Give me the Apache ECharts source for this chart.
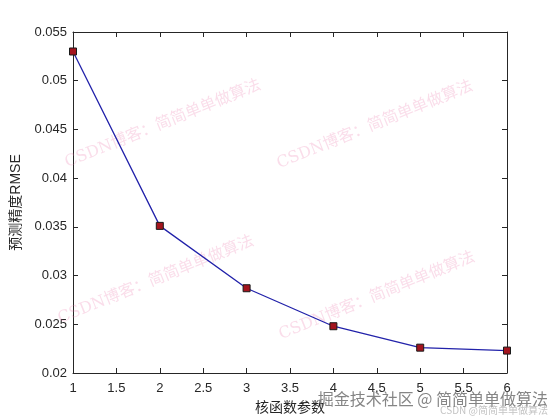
<!DOCTYPE html>
<html>
<head>
<meta charset="utf-8">
<script src="https://cdn.jsdelivr.net/npm/echarts@6/dist/echarts.min.js"></script>
<style>
  html, body { margin: 0; padding: 0; background: #fff; }
  #chart { width: 560px; height: 420px; }
</style>
</head>
<body>
<div id="chart"></div>
<script>
// 数据
const kernelParams = [1, 2, 3, 4, 5, 6]
const rmseValues = [0.0530, 0.0351, 0.0287, 0.0248, 0.0226, 0.0223]
const xTitle = '核函数参数'
const yTitle = '预测精度RMSE'
const watermark = 'CSDN博客：简简单单做算法'
const footerMain = '掘金技术社区 @ 简简单单做算法'
const footerSub = 'CSDN @简简单单做算法'

const font = '"Liberation Sans", "Noto Sans CJK SC", Arial, sans-serif'
const textColor = '#262626'

const myChart = echarts.init(document.getElementById('chart'))

// 水印
const wmPos = [[163, 124], [375, 125], [156, 280], [377, 296]]
const wmGraphics = wmPos.map(p => ({
  type: 'text',
  x: p[0],
  y: p[1],
  rotation: 22 * Math.PI / 180,
  z: 1,
  style: {
    text: watermark,
    fill: 'rgba(235, 120, 170, 0.25)',
    font: '16px "DejaVu Serif", "Noto Sans CJK SC", serif',
    align: 'center',
    verticalAlign: 'middle'
  }
}))

const hiddenAxisCommon = {
  type: 'value',
  axisLine: { show: true, lineStyle: { color: '#262626', width: 1 } },
  axisTick: { show: true, inside: true, length: 5, lineStyle: { color: '#262626' } },
  axisLabel: { show: false },
  splitLine: { show: false }
}

const option = {
  animation: false,
  backgroundColor: '#fff',
  grid: { left: 73, right: 53, top: 32, bottom: 46 },
  xAxis: [
    {
      type: 'value',
      min: 1, max: 6, interval: 0.5,
      name: xTitle,
      nameLocation: 'middle',
      nameGap: 28,
      nameTextStyle: { color: textColor, fontSize: 14, fontFamily: font },
      axisLine: { lineStyle: { color: '#262626', width: 1 } },
      axisTick: { inside: true, length: 5, lineStyle: { color: '#262626' } },
      axisLabel: { color: textColor, fontSize: 13, fontFamily: font, margin: 9 },
      splitLine: { show: false }
    },
    Object.assign({ position: 'top', min: 1, max: 6, interval: 0.5 }, hiddenAxisCommon)
  ],
  yAxis: [
    {
      type: 'value',
      min: 0.02, max: 0.055, interval: 0.005,
      name: yTitle,
      nameLocation: 'middle',
      nameGap: 42,
      nameTextStyle: { color: textColor, fontSize: 14, fontFamily: font },
      axisLine: { show: true, lineStyle: { color: '#262626', width: 1 } },
      axisTick: { show: true, inside: true, length: 5, lineStyle: { color: '#262626' } },
      axisLabel: {
        color: textColor, fontSize: 13, fontFamily: font, margin: 6,
        formatter: v => String(+v.toFixed(3))
      },
      splitLine: { show: false }
    },
    Object.assign({ position: 'right', min: 0.02, max: 0.055, interval: 0.005 }, hiddenAxisCommon)
  ],
  series: [
    {
      type: 'line',
      data: kernelParams.map((x, i) => [x, rmseValues[i]]),
      z: 5,
      symbol: 'rect',
      symbolSize: 7,
      lineStyle: { color: '#2222aa', width: 1.3 },
      itemStyle: { color: '#a3141e', borderColor: '#1a1a1a', borderWidth: 1 }
    }
  ],
  graphic: wmGraphics.concat([
    {
      type: 'text',
      right: 12,
      top: 391,
      z: 10,
      style: {
        text: footerMain,
        fill: 'rgba(120, 120, 120, 0.9)',
        font: '16px "Noto Sans CJK SC", sans-serif'
      }
    },
    {
      type: 'text',
      right: 12,
      top: 405,
      z: 9,
      style: {
        text: footerSub,
        fill: 'rgba(170, 170, 170, 0.7)',
        font: '10px "Noto Sans CJK SC", sans-serif'
      }
    }
  ])
}

myChart.setOption(option)
</script>
</body>
</html>
